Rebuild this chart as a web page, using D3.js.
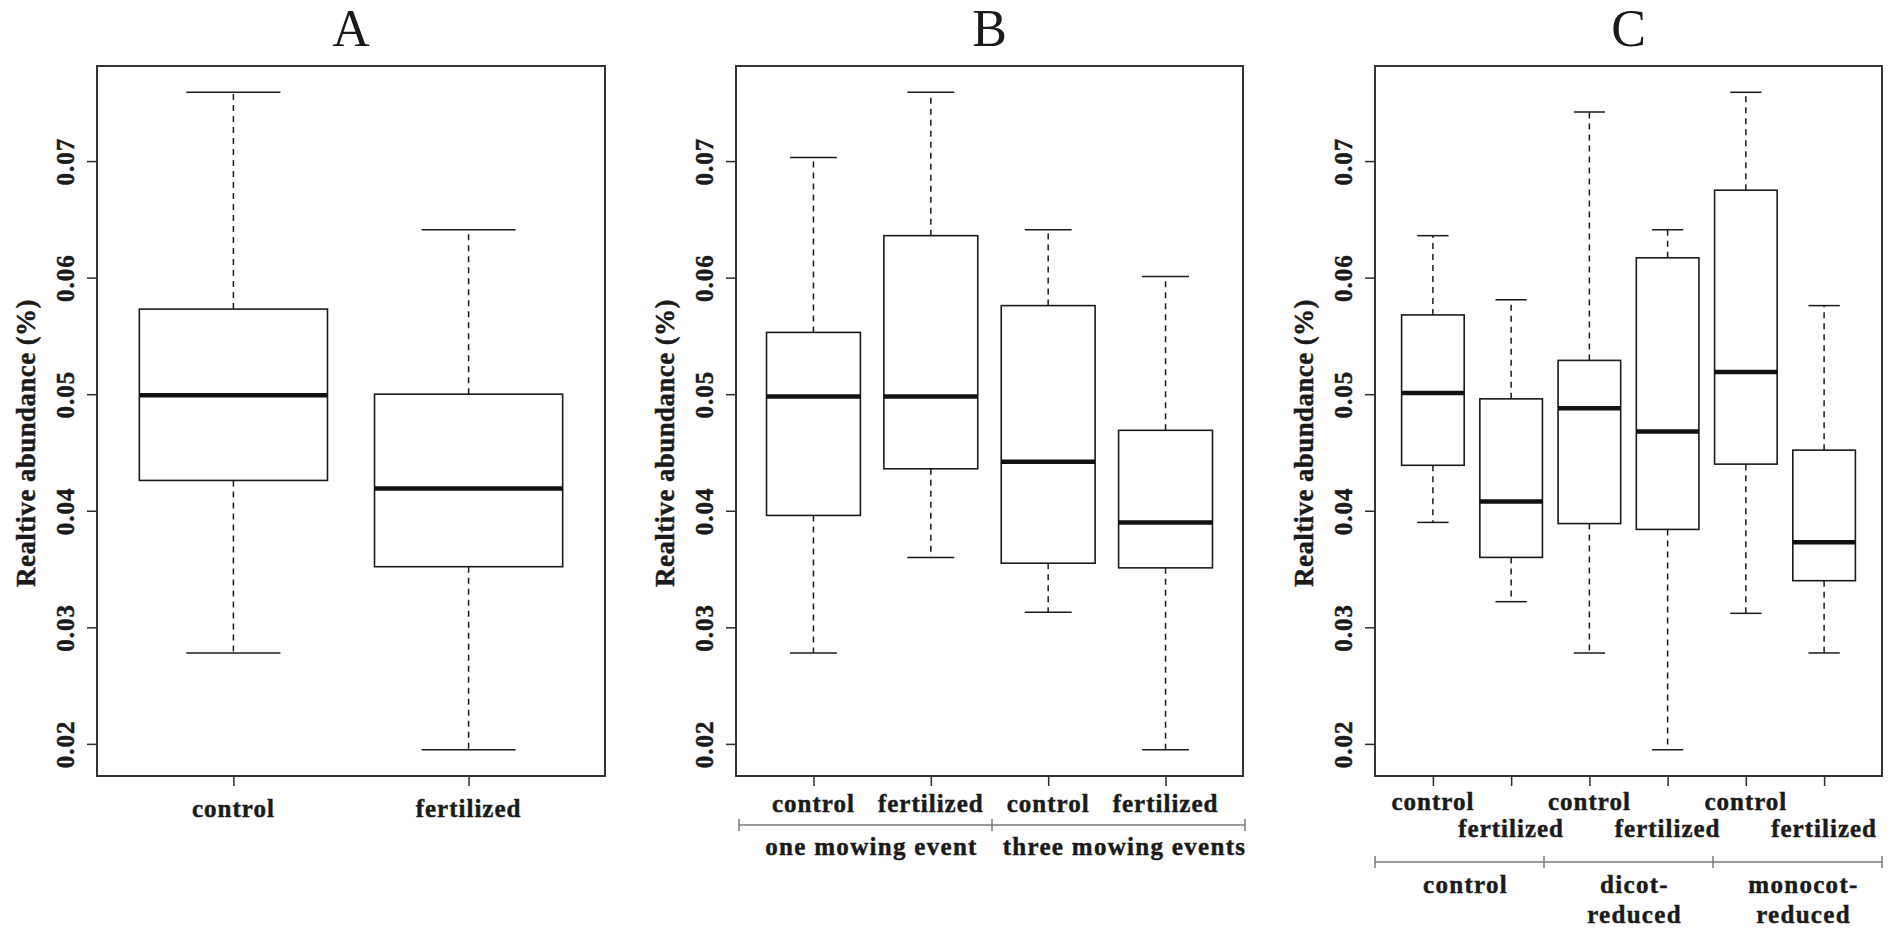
<!DOCTYPE html>
<html>
<head>
<meta charset="utf-8">
<script src="https://cdn.jsdelivr.net/npm/d3@7"></script>
<style>
  body { margin: 0; background: white; }
  text { font-family: "Liberation Serif", "Times New Roman", serif; fill: #1a1a1a; }
  .gras { font-weight: bold; stroke: #1a1a1a; stroke-width: 0.45px; }
</style>
</head>
<body>
<div id="figure"></div>
<script>
// Tick values shared by the three panels
const yTicks = [0.02, 0.03, 0.04, 0.05, 0.06, 0.07];
const panelTitles = ["A", "B", "C"];

// Panel A : two treatments
const aTreatments = ["control", "fertilized"];
const aLower  = [0.0278, 0.0195];
const aQ1     = [0.0426, 0.0352];
const aMedian = [0.0499, 0.0419];
const aQ3     = [0.0573, 0.0500];
const aUpper  = [0.0759, 0.0641];

// Panel B : treatment x mowing
const bTreatments = ["control", "fertilized", "control", "fertilized"];
const bGroups = ["one mowing event", "three mowing events"];
const bLower  = [0.0278, 0.0360, 0.0313, 0.0195];
const bQ1     = [0.0396, 0.0436, 0.0355, 0.0351];
const bMedian = [0.0498, 0.0498, 0.0442, 0.0390];
const bQ3     = [0.0553, 0.0636, 0.0576, 0.0469];
const bUpper  = [0.0703, 0.0759, 0.0641, 0.0601];

// Panel C : treatment x plant removal
const cTreatments = ["control", "fertilized", "control", "fertilized", "control", "fertilized"];
const cGroups = [["control"], ["dicot-", "reduced"], ["monocot-", "reduced"]];
const cLower  = [0.0390, 0.0322, 0.0278, 0.0195, 0.0312, 0.0278];
const cQ1     = [0.0439, 0.0360, 0.0389, 0.0384, 0.0440, 0.0340];
const cMedian = [0.0501, 0.0408, 0.0488, 0.0468, 0.0519, 0.0373];
const cQ3     = [0.0568, 0.0496, 0.0529, 0.0617, 0.0675, 0.0452];
const cUpper  = [0.0636, 0.0581, 0.0742, 0.0641, 0.0759, 0.0576];

const W = 1901, H = 928;
const TOP = 66, BOTTOM = 776;

const svg = d3.select("#figure").append("svg")
    .attr("width", W)
    .attr("height", H);

svg.append("rect")
    .attr("width", "100%")
    .attr("height", "100%")
    .attr("fill", "white");


/* Draws one boxplot panel (frame, axes, boxes) and returns its x scale */
function dessinerPanneau(left, right, title, lower, q1, median, q3, upper) {
    let n = median.length;
    let pad = 0.04 * n; // R extends the x range by 4 %
    let x = d3.scaleLinear().domain([0.5 - pad, n + 0.5 + pad]).range([left, right]);

    let lo = d3.min(lower), hi = d3.max(upper);
    let ypad = (hi - lo) * 0.04;
    let y = d3.scaleLinear().domain([lo - ypad, hi + ypad]).range([BOTTOM, TOP]);

    let g = svg.append("g");

    // Title
    g.append("text")
        .attr("x", (left + right) / 2)
        .attr("y", 46)
        .attr("text-anchor", "middle")
        .style("font-size", "52px")
        .text(title);

    // Y axis, labels rotated like in R
    let yAxis = g.append("g")
        .attr("transform", "translate(" + left + ",0)")
        .call(d3.axisLeft(y).tickValues(yTicks).tickSize(10).tickFormat(d3.format(".2f")));
    yAxis.select(".domain").remove();
    yAxis.selectAll("line").attr("stroke", "#2a2a2a").attr("stroke-width", 1.5);
    yAxis.selectAll("text")
        .attr("x", null).attr("dy", null)
        .attr("transform", "translate(-23,0) rotate(-90)")
        .attr("text-anchor", "middle")
        .attr("fill", "#1a1a1a")
        .attr("class", "gras")
        .style("font-family", "'Liberation Serif', serif")
        .style("font-size", "25px")
        .style("letter-spacing", "1px");

    g.append("text")
        .attr("class", "gras")
        .attr("transform", "translate(" + (left - 62) + ",443) rotate(-90)")
        .attr("text-anchor", "middle")
        .style("font-size", "27px")
        .style("letter-spacing", "0.4px")
        .text("Realtive abundance (%)");

    // X axis ticks
    let xAxis = g.append("g")
        .attr("transform", "translate(0," + BOTTOM + ")")
        .call(d3.axisBottom(x).tickValues(d3.range(1, n + 1)).tickSize(10).tickFormat(""));
    xAxis.select(".domain").remove();
    xAxis.selectAll("line").attr("stroke", "#2a2a2a").attr("stroke-width", 1.5);

    // Boxes
    let boxW = x(1.4) - x(0.6);
    let capW = boxW / 2;
    let boxes = g.selectAll(".box").data(d3.range(n)).enter().append("g");

    // dashed whiskers
    boxes.append("line")
        .attr("x1", i => x(i + 1)).attr("x2", i => x(i + 1))
        .attr("y1", i => y(q3[i])).attr("y2", i => y(upper[i]))
        .attr("stroke", "#1a1a1a").attr("stroke-width", 1.5).attr("stroke-dasharray", "6,5");
    boxes.append("line")
        .attr("x1", i => x(i + 1)).attr("x2", i => x(i + 1))
        .attr("y1", i => y(q1[i])).attr("y2", i => y(lower[i]))
        .attr("stroke", "#1a1a1a").attr("stroke-width", 1.5).attr("stroke-dasharray", "6,5");

    // staples
    boxes.append("line")
        .attr("x1", i => x(i + 1) - capW / 2).attr("x2", i => x(i + 1) + capW / 2)
        .attr("y1", i => y(upper[i])).attr("y2", i => y(upper[i]))
        .attr("stroke", "#1a1a1a").attr("stroke-width", 1.5);
    boxes.append("line")
        .attr("x1", i => x(i + 1) - capW / 2).attr("x2", i => x(i + 1) + capW / 2)
        .attr("y1", i => y(lower[i])).attr("y2", i => y(lower[i]))
        .attr("stroke", "#1a1a1a").attr("stroke-width", 1.5);

    // box and median
    boxes.append("rect")
        .attr("x", i => x(i + 1) - boxW / 2)
        .attr("y", i => y(q3[i]))
        .attr("width", boxW)
        .attr("height", i => y(q1[i]) - y(q3[i]))
        .attr("fill", "white")
        .attr("stroke", "#1a1a1a").attr("stroke-width", 1.6);
    boxes.append("line")
        .attr("x1", i => x(i + 1) - boxW / 2).attr("x2", i => x(i + 1) + boxW / 2)
        .attr("y1", i => y(median[i])).attr("y2", i => y(median[i]))
        .attr("stroke", "#111").attr("stroke-width", 4.5);

    // Plot frame
    g.append("rect")
        .attr("x", left).attr("y", TOP)
        .attr("width", right - left).attr("height", BOTTOM - TOP)
        .attr("fill", "none")
        .attr("stroke", "#333").attr("stroke-width", 2);

    return x;
}


/* Writes the treatment names under the ticks */
function ecrireEtiquettes(x, labels, ys) {
    svg.append("g").selectAll("text").data(labels).enter().append("text")
        .attr("class", "gras")
        .attr("x", (d, i) => x(i + 1))
        .attr("y", (d, i) => ys[i % ys.length])
        .attr("text-anchor", "middle")
        .style("font-size", "25px")
        .style("letter-spacing", "1px")
        .text(d => d);
}


/* Grey bracket line with group names below it */
function ecrireGroupes(left, right, groups, lineY, textY) {
    let k = groups.length;
    let gx = d3.scaleLinear().domain([0, k]).range([left, right]);
    let g = svg.append("g");
    g.append("line")
        .attr("x1", gx(0)).attr("x2", gx(k))
        .attr("y1", lineY).attr("y2", lineY)
        .attr("stroke", "#777").attr("stroke-width", 1.5);
    g.selectAll(".sep").data(d3.range(k + 1)).enter().append("line")
        .attr("x1", j => gx(j)).attr("x2", j => gx(j))
        .attr("y1", lineY - 6).attr("y2", lineY + 6)
        .attr("stroke", "#777").attr("stroke-width", 1.5);
    g.selectAll(".grp").data(groups).enter().append("text")
        .attr("class", "gras")
        .attr("x", (d, j) => gx(j + 0.5) + 6)
        .attr("y", textY)
        .attr("text-anchor", "middle")
        .style("font-size", "25px")
        .style("letter-spacing", "1.3px")
        .selectAll("tspan").data(d => Array.isArray(d) ? d : [d]).enter().append("tspan")
        .attr("x", function() { return d3.select(this.parentNode).attr("x"); })
        .attr("dy", (d, m) => m == 0 ? 0 : 30)
        .text(d => d);
}


let xA = dessinerPanneau(97, 605, panelTitles[0], aLower, aQ1, aMedian, aQ3, aUpper);
ecrireEtiquettes(xA, aTreatments, [817]);

let xB = dessinerPanneau(736, 1243, panelTitles[1], bLower, bQ1, bMedian, bQ3, bUpper);
ecrireEtiquettes(xB, bTreatments, [812]);
ecrireGroupes(739, 1245, bGroups, 825, 855);

let xC = dessinerPanneau(1375, 1882, panelTitles[2], cLower, cQ1, cMedian, cQ3, cUpper);
ecrireEtiquettes(xC, cTreatments, [810, 837]);
ecrireGroupes(1375, 1882, cGroups, 862, 893);
</script>
</body>
</html>
